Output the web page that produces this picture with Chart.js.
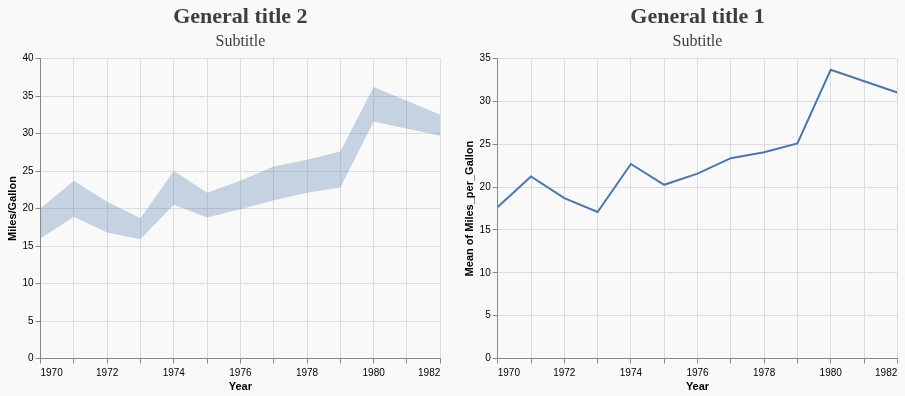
<!DOCTYPE html>
<html>
<head>
<meta charset="utf-8">
<script src="https://cdn.jsdelivr.net/npm/chart.js@4/dist/chart.umd.min.js"></script>
<style>
  html, body { margin: 0; padding: 0; background: #f9f9f9; }
  #wrap { position: relative; width: 905px; height: 396px; }
  .box { position: absolute; top: 0; height: 396px; }
</style>
</head>
<body>
<div id="wrap">
  <div class="box" style="left:0;width:455px"><canvas id="grafico-banda"></canvas></div>
  <div class="box" style="left:455px;width:450px"><canvas id="grafico-media"></canvas></div>
</div>
<script>
// dados (1981 nao aparece no conjunto)
const anos = [1970, 1971, 1972, 1973, 1974, 1975, 1976, 1977, 1978, 1979, 1980, 1982];
const ciInferior = [16.0, 18.9, 16.8, 15.9, 20.5, 18.8, 19.9, 21.1, 22.1, 22.8, 31.6, 29.7];
const ciSuperior = [20.0, 23.7, 20.9, 18.7, 25.0, 22.1, 23.7, 25.6, 26.5, 27.6, 36.2, 32.5];
const mediaMpg = [17.69, 21.25, 18.71, 17.10, 22.70, 20.27, 21.57, 23.38, 24.06, 25.09, 33.70, 31.05];
const ticksAno = [1970, 1972, 1974, 1976, 1978, 1980, 1982];

const corLinha = '#4c78a8';
const corTexto = '#3b3e44';

Chart.defaults.font.family = "'Liberation Sans', Arial, sans-serif";
Chart.defaults.color = '#000';
Chart.defaults.animation = false;

function pontos(valores){
	let temp = [];
	anos.map((a, i) => {
		temp.push({x: a, y: valores[i]});
	})
	return temp;
}

function titulos(texto){
	return {
		title: {
			display: true, text: texto, color: corTexto, fullSize: false,
			font: {family: "'Liberation Serif', 'Times New Roman', serif", size: 22, weight: 'bold'},
			padding: {top: 4, bottom: 0}
		},
		subtitle: {
			display: true, text: 'Subtitle', color: corTexto, fullSize: false,
			font: {family: "'Liberation Serif', 'Times New Roman', serif", size: 16},
			padding: {top: 2, bottom: 7}
		},
		legend: {display: false},
		tooltip: {enabled: false}
	};
}

function eixoX(){
	return {
		type: 'linear', min: 1970, max: 1982,
		afterFit: (s) => { s.height = 37.5; },
		ticks: {
			stepSize: 1, autoSkip: false, maxRotation: 0, align: 'inner',
			padding: 4, font: {size: 10}, color: '#000',
			callback: (v) => ticksAno.includes(v) ? String(v) : ''
		},
		grid: {color: '#ddd', tickColor: '#888', tickLength: 5},
		border: {color: '#888'},
		title: {display: true, text: 'Year', color: '#000', font: {size: 11, weight: 'bold'}, padding: {top: 0, bottom: 2}}
	};
}

function eixoY(max, texto, largura, pad){
	return {
		min: 0, max: max,
		afterFit: (s) => { s.width = largura; },
		ticks: {stepSize: 5, padding: 2, font: {size: 10}, color: '#000'},
		grid: {color: '#ddd', tickColor: '#888', tickLength: 5},
		border: {color: '#888'},
		title: {display: true, text: texto, color: '#000', font: {size: 11, weight: 'bold'}, padding: {top: pad, bottom: 0}}
	};
}

new Chart(document.getElementById('grafico-banda'), {
	type: 'line',
	data: {
		datasets: [{
			label: 'ci0',
			data: pontos(ciInferior),
			borderWidth: 0, pointRadius: 0, fill: false
		}, {
			label: 'ci1',
			data: pontos(ciSuperior),
			borderWidth: 0, pointRadius: 0,
			backgroundColor: 'rgba(76,120,168,0.3)',
			fill: '-1'
		}]
	},
	options: {
		responsive: true, maintainAspectRatio: false,
		layout: {padding: {left: 0, right: 14.7, top: 0, bottom: 0}},
		plugins: titulos('General title 2'),
		scales: {x: eixoX(), y: eixoY(40, 'Miles/Gallon', 40.5, 6.7)}
	}
});

new Chart(document.getElementById('grafico-media'), {
	type: 'line',
	data: {
		datasets: [{
			label: 'Mean of Miles_per_Gallon',
			data: pontos(mediaMpg),
			borderColor: corLinha, borderWidth: 2,
			pointRadius: 0, tension: 0, fill: false
		}]
	},
	options: {
		responsive: true, maintainAspectRatio: false,
		layout: {padding: {left: 0, right: 7.7, top: 0, bottom: 0}},
		plugins: titulos('General title 1'),
		scales: {x: eixoX(), y: eixoY(35, 'Mean of Miles_per_Gallon', 42.7, 8.4)}
	}
});
</script>
</body>
</html>
